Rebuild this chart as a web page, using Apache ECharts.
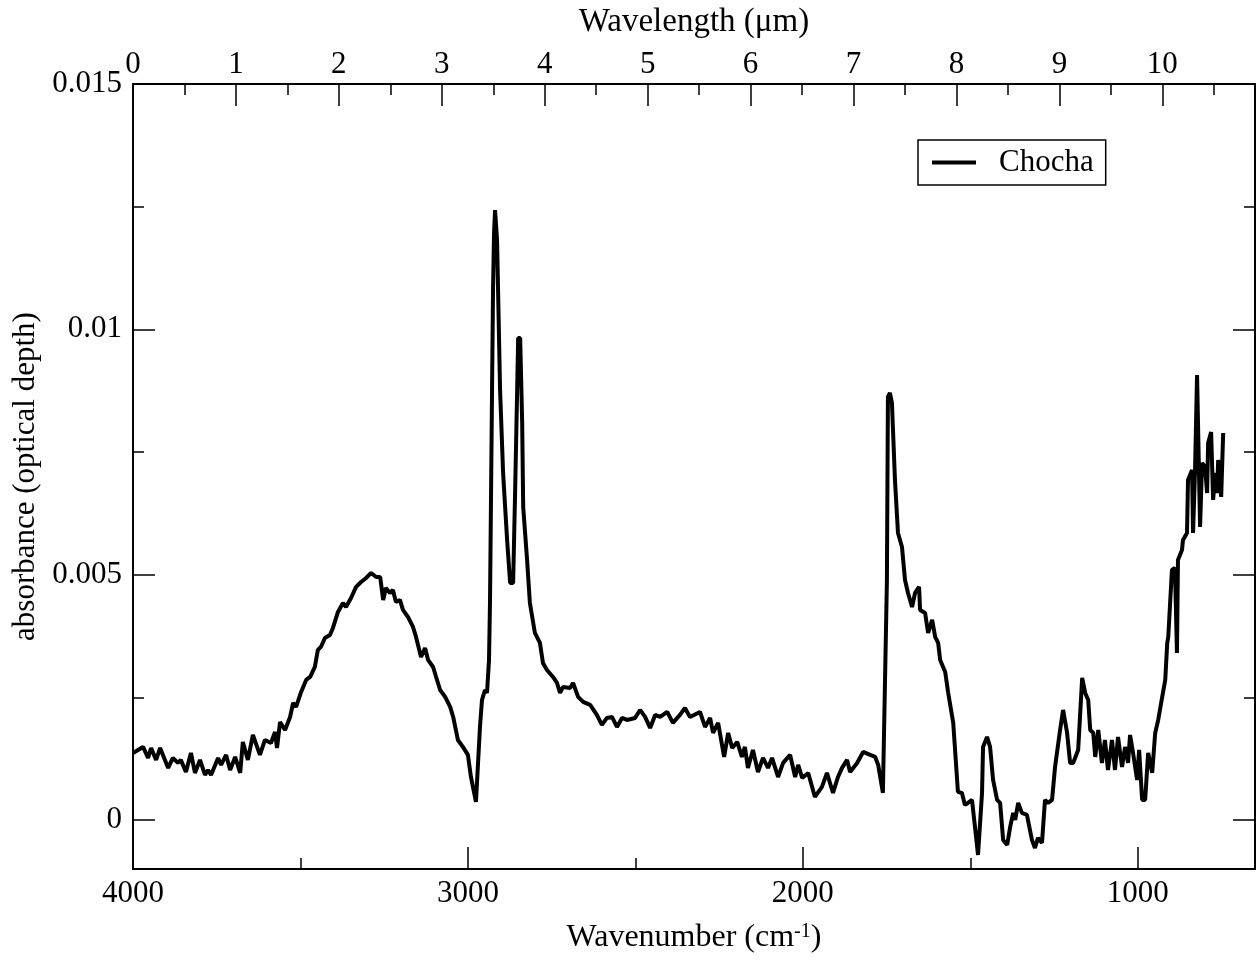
<!DOCTYPE html>
<html>
<head>
<meta charset="utf-8">
<script src="https://cdn.jsdelivr.net/npm/echarts@6/dist/echarts.min.js"></script>
<style>
html,body{margin:0;padding:0;background:#fff;}
#chart{width:1257px;height:961px;}
</style>
</head>
<body>
<div id="chart"></div>
<script>
// Wavenumber (cm^-1) and absorbance
const wavenumber = [4000,3970,3955,3946,3931,3919,3895,3881,3866,3857,3842,3827,3815,3800,3785,3776,3767,3746,3737,3722,3710,3695,3680,3672,3657,3642,3621,3606,3588,3576,3570,3561,3546,3531,3522,3513,3498,3483,3471,3457,3448,3439,3427,3412,3403,3388,3373,3364,3349,3334,3319,3304,3289,3274,3262,3253,3245,3233,3224,3215,3203,3194,3179,3164,3155,3140,3128,3119,3104,3095,3083,3068,3053,3044,3030,3015,3000,2991,2976,2964,2958,2949,2943,2937,2934,2928,2925,2922,2919,2913,2910,2904,2895,2883,2874,2865,2859,2853,2850,2844,2838,2835,2824,2815,2800,2785,2776,2764,2746,2734,2725,2716,2695,2686,2671,2656,2635,2615,2600,2585,2570,2555,2540,2525,2501,2486,2471,2456,2441,2426,2405,2388,2367,2352,2337,2307,2292,2277,2268,2253,2235,2223,2211,2196,2182,2173,2164,2149,2134,2119,2104,2092,2074,2059,2038,2023,2014,2002,1984,1964,1943,1928,1910,1895,1883,1868,1859,1838,1820,1799,1784,1775,1761,1749,1746,1740,1734,1725,1716,1704,1695,1686,1674,1665,1653,1650,1635,1626,1614,1605,1596,1590,1575,1566,1551,1537,1525,1516,1507,1495,1486,1477,1465,1462,1450,1441,1432,1420,1411,1402,1390,1381,1372,1366,1357,1346,1331,1316,1307,1298,1286,1277,1268,1256,1247,1232,1223,1211,1202,1193,1178,1166,1157,1148,1142,1133,1127,1118,1107,1098,1089,1077,1068,1059,1047,1038,1029,1023,1014,1002,996,987,978,969,957,948,939,927,918,912,909,898,889,883,880,868,865,853,850,838,835,829,823,820,814,808,799,793,790,781,775,769,763,760,751,745];
const absorbance = [0.001365,0.001488,0.001264,0.001467,0.001223,0.001467,0.001060,0.001264,0.001162,0.001223,0.000978,0.001365,0.000958,0.001223,0.000917,0.001019,0.000917,0.001264,0.001121,0.001325,0.001019,0.001284,0.000958,0.001590,0.001223,0.001732,0.001325,0.001630,0.001569,0.001793,0.001467,0.001997,0.001834,0.002099,0.002384,0.002303,0.002609,0.002853,0.002914,0.003118,0.003465,0.003526,0.003709,0.003770,0.003913,0.004239,0.004422,0.004341,0.004524,0.004749,0.004850,0.004932,0.005034,0.004952,0.004952,0.004484,0.004728,0.004626,0.004687,0.004443,0.004484,0.004280,0.004137,0.003933,0.003730,0.003322,0.003505,0.003261,0.003118,0.002914,0.002649,0.002507,0.002303,0.002099,0.001630,0.001488,0.001325,0.000876,0.000367,0.001895,0.002446,0.002649,0.002588,0.003261,0.004484,0.008763,0.010800,0.011960,0.012430,0.011820,0.010800,0.008763,0.007072,0.005706,0.004830,0.004830,0.006725,0.008763,0.009823,0.009823,0.008091,0.006379,0.005360,0.004422,0.003811,0.003607,0.003200,0.003057,0.002914,0.002792,0.002588,0.002711,0.002690,0.002792,0.002507,0.002405,0.002344,0.002140,0.001936,0.002079,0.002099,0.001895,0.002079,0.002038,0.002079,0.002242,0.002099,0.001875,0.002140,0.002099,0.002201,0.001977,0.002140,0.002283,0.002099,0.002201,0.001895,0.002079,0.001773,0.001977,0.001284,0.001773,0.001467,0.001590,0.001284,0.001488,0.001060,0.001427,0.000978,0.001264,0.001060,0.001264,0.000876,0.001162,0.001325,0.000876,0.001121,0.000856,0.000958,0.000469,0.000673,0.000958,0.000550,0.000876,0.001060,0.001223,0.000978,0.001162,0.001386,0.001325,0.001284,0.001121,0.000550,0.004891,0.008621,0.008702,0.008498,0.006929,0.005849,0.005564,0.004891,0.004626,0.004341,0.004626,0.004749,0.004280,0.004219,0.003811,0.004076,0.003730,0.003607,0.003261,0.003016,0.002588,0.001977,0.000571,0.000550,0.000306,0.000346,0.000408,-0.000143,-0.000713,0.000550,0.001488,0.001692,0.001488,0.000815,0.000408,0.000346,-0.000408,-0.000510,-0.000143,0.000143,0.000000,0.000346,0.000143,0.000102,-0.000408,-0.000571,-0.000367,-0.000469,0.000408,0.000346,0.000408,0.001080,0.001834,0.002242,0.001773,0.001162,0.001162,0.001427,0.002894,0.002588,0.002446,0.001834,0.001773,0.001284,0.001834,0.001162,0.001630,0.001019,0.001630,0.001019,0.001692,0.001080,0.001488,0.001162,0.001732,0.001365,0.000815,0.001427,0.000408,0.000408,0.001365,0.000958,0.001773,0.002038,0.002507,0.002853,0.003607,0.003730,0.005095,0.005136,0.003403,0.005299,0.005503,0.005706,0.005849,0.006929,0.007133,0.005849,0.007133,0.009069,0.009069,0.005971,0.007276,0.007194,0.006664,0.007683,0.007907,0.006522,0.007072,0.006664,0.007337,0.006583,0.007887];
const seriesName = 'Chocha';
const bottomMajor = [1000, 2000, 3000, 4000];
const bottomMinor = [1500, 2500, 3500];
const topMajor = [0, 1, 2, 3, 4, 5, 6, 7, 8, 9, 10];
const topMinor = [0.5, 1.5, 2.5, 3.5, 4.5, 5.5, 6.5, 7.5, 8.5, 9.5, 10.5];
const yMajor = [0, 0.005, 0.01, 0.015];
const yMinor = [0.0025, 0.0075, 0.0125];

const FONT = 'Liberation Serif';
const data = wavenumber.map((w, i) => [w, absorbance[i]]);

function baseAxis(extra) {
  return Object.assign({
    type: 'value',
    splitLine: { show: false },
    axisLine: { show: false, onZero: false },
    axisLabel: { show: false },
    axisTick: { show: false }
  }, extra);
}
const lineS = { color: '#000', width: 2 };
const tickMaj = (vals) => ({ show: true, inside: true, length: 22, customValues: vals, lineStyle: { color: '#000', width: 1.5 } });
const tickMin = (vals) => ({ show: true, inside: true, length: 11, customValues: vals, lineStyle: { color: '#000', width: 1.5 } });
const lab = (vals, margin) => ({ show: true, customValues: vals, margin: margin, color: '#000', fontFamily: FONT, fontSize: 31,
  formatter: (v) => String(v) });

const chart = echarts.init(document.getElementById('chart'));
chart.setOption({
  animation: false,
  backgroundColor: '#fff',
  grid: { left: 133, right: 2, top: 84, bottom: 92, containLabel: false },
  legend: {
    show: true,
    data: [{ name: seriesName, icon: 'rect' }],
    left: 918, top: 140,
    orient: 'vertical',
    itemWidth: 44, itemHeight: 4,
    padding: [7, 12, 7, 14],
    borderColor: '#000', borderWidth: 1.5,
    backgroundColor: '#fff',
    formatter: '{t|{name}}',
    textStyle: { color: '#000', fontFamily: FONT, fontSize: 31,
      rich: { t: { fontFamily: FONT, fontSize: 31, color: '#000', padding: [0, 0, 0, 18] } } }
  },
  xAxis: [
    baseAxis({ position: 'bottom', min: 650, max: 4000, inverse: true,
      axisLine: { show: true, onZero: false, lineStyle: lineS },
      axisTick: tickMaj(bottomMajor), axisLabel: lab(bottomMajor, 9),
      name: '{a|Wavenumber (cm}{s|-1}{a|)}', nameLocation: 'middle', nameGap: 53,
      nameTextStyle: { color: '#000', fontFamily: FONT, fontSize: 32,
        rich: { a: { fontFamily: FONT, fontSize: 32, color: '#000', verticalAlign: 'bottom' },
                s: { fontFamily: FONT, fontSize: 20, color: '#000', verticalAlign: 'top', padding: [0, 0, 12, 0] } } } }),
    baseAxis({ position: 'bottom', min: 650, max: 4000, inverse: true, axisTick: tickMin(bottomMinor) }),
    baseAxis({ position: 'top', min: 0, max: 10.9,
      axisLine: { show: true, onZero: false, lineStyle: lineS },
      axisTick: tickMaj(topMajor), axisLabel: lab(topMajor, 4),
      name: 'Wavelength (μm)', nameLocation: 'middle', nameGap: 45,
      nameTextStyle: { color: '#000', fontFamily: FONT, fontSize: 33 } }),
    baseAxis({ position: 'top', min: 0, max: 10.9, axisTick: tickMin(topMinor) })
  ],
  yAxis: [
    baseAxis({ position: 'left', min: -0.001, max: 0.015,
      axisLine: { show: true, onZero: false, lineStyle: lineS },
      axisTick: tickMaj(yMajor), axisLabel: lab(yMajor, 11),
      name: 'absorbance (optical depth)', nameLocation: 'middle', nameGap: 86, nameRotate: 90,
      nameTextStyle: { color: '#000', fontFamily: FONT, fontSize: 31 } }),
    baseAxis({ position: 'left', min: -0.001, max: 0.015, axisTick: tickMin(yMinor) }),
    baseAxis({ position: 'right', min: -0.001, max: 0.015,
      axisLine: { show: true, onZero: false, lineStyle: lineS },
      axisTick: tickMaj(yMajor) }),
    baseAxis({ position: 'right', min: -0.001, max: 0.015, axisTick: tickMin(yMinor) })
  ],
  series: [{
    name: seriesName,
    type: 'line',
    xAxisIndex: 0, yAxisIndex: 0,
    data: data,
    showSymbol: false, symbol: 'none',
    smooth: false,
    lineStyle: { color: '#000', width: 4 },
    itemStyle: { color: '#000' },
    clip: true
  }]
});
</script>
</body>
</html>
